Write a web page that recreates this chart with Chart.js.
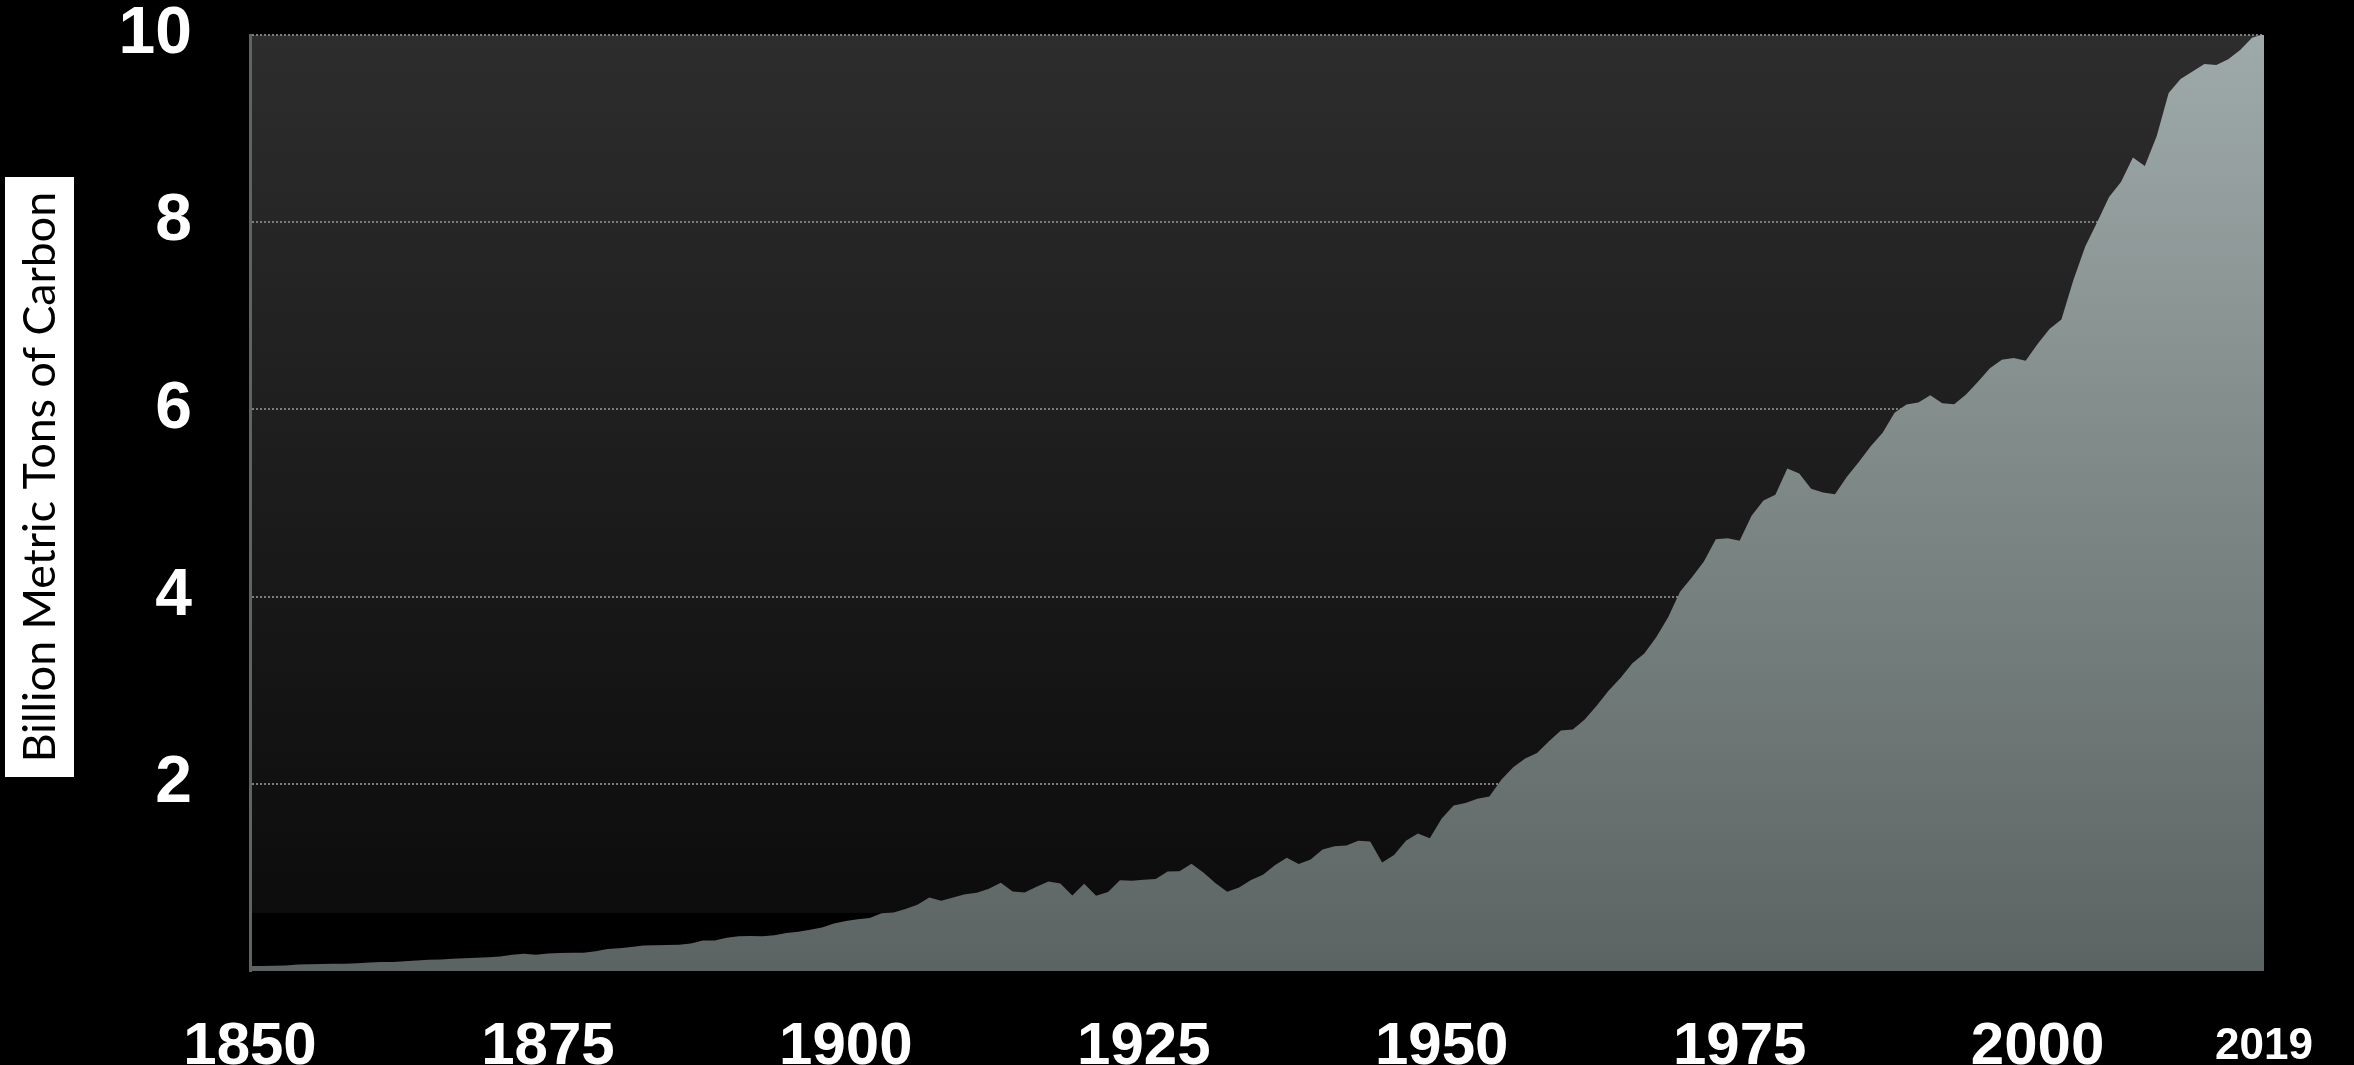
<!DOCTYPE html>
<html>
<head>
<meta charset="utf-8">
<title>Global carbon emissions 1850-2019</title>
<script src="https://cdn.jsdelivr.net/npm/chart.js@4.4.0/dist/chart.umd.min.js"></script>
<style>
  html, body { margin: 0; padding: 0; background: #000; }
  #wrap { width: 2354px; height: 1065px; position: relative; }
</style>
</head>
<body>
<div id="wrap"><canvas id="carbonCanvas"></canvas></div>
<script>
const years = [
  1850, 1851, 1852, 1853, 1854, 1855, 1856, 1857, 1858, 1859,
  1860, 1861, 1862, 1863, 1864, 1865, 1866, 1867, 1868, 1869,
  1870, 1871, 1872, 1873, 1874, 1875, 1876, 1877, 1878, 1879,
  1880, 1881, 1882, 1883, 1884, 1885, 1886, 1887, 1888, 1889,
  1890, 1891, 1892, 1893, 1894, 1895, 1896, 1897, 1898, 1899,
  1900, 1901, 1902, 1903, 1904, 1905, 1906, 1907, 1908, 1909,
  1910, 1911, 1912, 1913, 1914, 1915, 1916, 1917, 1918, 1919,
  1920, 1921, 1922, 1923, 1924, 1925, 1926, 1927, 1928, 1929,
  1930, 1931, 1932, 1933, 1934, 1935, 1936, 1937, 1938, 1939,
  1940, 1941, 1942, 1943, 1944, 1945, 1946, 1947, 1948, 1949,
  1950, 1951, 1952, 1953, 1954, 1955, 1956, 1957, 1958, 1959,
  1960, 1961, 1962, 1963, 1964, 1965, 1966, 1967, 1968, 1969,
  1970, 1971, 1972, 1973, 1974, 1975, 1976, 1977, 1978, 1979,
  1980, 1981, 1982, 1983, 1984, 1985, 1986, 1987, 1988, 1989,
  1990, 1991, 1992, 1993, 1994, 1995, 1996, 1997, 1998, 1999,
  2000, 2001, 2002, 2003, 2004, 2005, 2006, 2007, 2008, 2009,
  2010, 2011, 2012, 2013, 2014, 2015, 2016, 2017, 2018, 2019
];

// billion metric tons of carbon, one value per year
const emissions = [
  0.054, 0.054, 0.057, 0.059, 0.069, 0.071, 0.076, 0.077, 0.078, 0.083,
  0.091, 0.095, 0.097, 0.104, 0.112, 0.119, 0.122, 0.130, 0.135, 0.142,
  0.147, 0.156, 0.173, 0.184, 0.174, 0.188, 0.191, 0.194, 0.196, 0.210,
  0.236, 0.243, 0.256, 0.272, 0.275, 0.277, 0.281, 0.295, 0.327, 0.327,
  0.356, 0.372, 0.374, 0.370, 0.383, 0.406, 0.419, 0.440, 0.465, 0.507,
  0.534, 0.552, 0.566, 0.617, 0.624, 0.663, 0.707, 0.784, 0.750, 0.785,
  0.819, 0.836, 0.879, 0.943, 0.850, 0.838, 0.901, 0.955, 0.936, 0.806,
  0.932, 0.803, 0.845, 0.970, 0.963, 0.975, 0.983, 1.062, 1.065, 1.145,
  1.053, 0.940, 0.847, 0.893, 0.973, 1.027, 1.130, 1.209, 1.142, 1.192,
  1.299, 1.334, 1.342, 1.391, 1.383, 1.160, 1.238, 1.392, 1.469, 1.419,
  1.630, 1.768, 1.796, 1.841, 1.865, 2.043, 2.178, 2.270, 2.330, 2.454,
  2.569, 2.580, 2.686, 2.833, 2.995, 3.130, 3.288, 3.393, 3.566, 3.780,
  4.053, 4.208, 4.376, 4.614, 4.623, 4.596, 4.864, 5.026, 5.087, 5.369,
  5.315, 5.152, 5.113, 5.094, 5.280, 5.438, 5.606, 5.750, 5.965, 6.052,
  6.073, 6.150, 6.065, 6.055, 6.160, 6.295, 6.440, 6.530, 6.550, 6.520,
  6.700, 6.860, 6.960, 7.380, 7.740, 8.000, 8.270, 8.430, 8.690, 8.600,
  8.920, 9.380, 9.530, 9.610, 9.690, 9.680, 9.740, 9.840, 9.970, 10.010
];

const yearTicks = [1850, 1875, 1900, 1925, 1950, 1975, 2000, 2019];
const valueTicks = [2, 4, 6, 8, 10];
const axisTitle = 'Billion Metric Tons of Carbon';

const FONT = '"Liberation Sans", Arial, sans-serif';

// dark grey to black backdrop behind the plot, black strip along the bottom
const backdrop = {
  id: 'backdrop',
  beforeDraw(chart) {
    const { ctx, chartArea: a, scales } = chart;
    ctx.save();
    ctx.fillStyle = '#000';
    ctx.fillRect(0, 0, chart.width, chart.height);
    const g = ctx.createLinearGradient(0, a.top, 0, a.bottom);
    g.addColorStop(0, '#2d2d2d');
    g.addColorStop(0.94, '#0c0c0c');
    g.addColorStop(1, '#0a0a0a');
    ctx.fillStyle = g;
    ctx.fillRect(a.left, a.top, a.right - a.left, a.bottom - a.top);
    const strip = scales.y.getPixelForValue(0.62);
    ctx.fillStyle = '#000';
    ctx.fillRect(a.left, strip, a.right - a.left, a.bottom - strip);
    ctx.restore();
  }
};

// white box with the rotated axis title
const titleBox = {
  id: 'titleBox',
  afterDraw(chart) {
    const ctx = chart.ctx;
    ctx.save();
    ctx.fillStyle = '#fff';
    ctx.fillRect(5, 177, 69, 600);
    ctx.translate(40, 477);
    ctx.rotate(-Math.PI / 2);
    ctx.font = '40px Lato, "Open Sans", sans-serif';
    const w = ctx.measureText(axisTitle).width;
    const size = 40 * 571 / w;
    ctx.font = size.toFixed(1) + 'px Lato, "Open Sans", sans-serif';
    ctx.fillStyle = '#000';
    ctx.textAlign = 'center';
    ctx.textBaseline = 'alphabetic';
    ctx.fillText(axisTitle, 0, 15);
    ctx.restore();
  }
};

new Chart(document.getElementById('carbonCanvas'), {
  type: 'line',
  data: {
    datasets: [{
      data: years.map((yr, i) => ({ x: yr, y: emissions[i] })),
      fill: 'origin',
      backgroundColor: (c) => {
        const a = c.chart.chartArea;
        if (!a) return '#7a8584';
        const g = c.chart.ctx.createLinearGradient(0, a.top, 0, a.bottom);
        g.addColorStop(0, '#9eaaa9');
        g.addColorStop(1, '#5b6462');
        return g;
      },
      borderWidth: 0,
      pointRadius: 0,
      tension: 0
    }]
  },
  options: {
    responsive: true,
    maintainAspectRatio: false,
    animation: false,
    layout: { padding: { top: 35, right: 90, bottom: 0, left: 0 } },
    plugins: {
      legend: { display: false },
      tooltip: { enabled: false }
    },
    scales: {
      x: {
        type: 'linear',
        min: 1850,
        max: 2019,
        afterBuildTicks: (s) => { s.ticks = yearTicks.map(v => ({ value: v })); },
        afterFit: (s) => { s.height = 94; },
        grid: { display: false },
        border: { display: false },
        ticks: {
          color: '#fff',
          padding: 32,
          maxRotation: 0,
          autoSkip: false,
          callback: (v) => String(v),
          font: (c) => (c.tick && c.tick.value === 2019)
            ? { family: FONT, size: 44, weight: 'bold', lineHeight: 72 / 44 }
            : { family: FONT, size: 60, weight: 'bold', lineHeight: 1.2 }
        }
      },
      y: {
        min: 0,
        max: 10,
        afterBuildTicks: (s) => { s.ticks = valueTicks.map(v => ({ value: v })); },
        afterFit: (s) => { s.width = 250; },
        // invisible tick marks give the gap between labels and the plot
        grid: {
          color: '#7d7d7d',
          lineWidth: 2,
          drawTicks: true,
          tickLength: 58,
          tickColor: 'rgba(0,0,0,0)'
        },
        border: { display: true, color: '#5c6563', width: 3, dash: [2, 2] },
        ticks: {
          color: '#fff',
          padding: 0,
          font: { family: FONT, size: 66, weight: 'bold', lineHeight: 1 }
        }
      }
    }
  },
  plugins: [backdrop, titleBox]
});
</script>
</body>
</html>
